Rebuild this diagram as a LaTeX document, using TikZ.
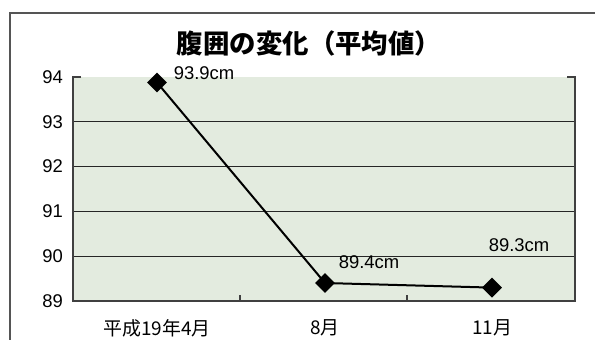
\documentclass[tikz,border=0pt]{standalone}
\usepackage{fontspec}
\setmainfont{Liberation Sans}
\newfontfamily\jpfont{Noto Sans CJK JP}
\usetikzlibrary{shapes.geometric,positioning}
\definecolor{plotbg}{HTML}{E3EBDF}
\definecolor{framegray}{HTML}{555555}

\begin{document}
\begin{tikzpicture}[x=1bp,y=-1bp,font=\fontsize{18.5}{18.5}\selectfont,
    datapt/.style={diamond,fill=black,inner sep=0pt,minimum size=20bp},
    gridln/.style={draw=black!85,line width=1.2bp},
    axisln/.style={draw=black!75,line width=1.2bp},
    catlab/.style={font=\jpfont\fontsize{19}{19}\selectfont}]
    \useasboundingbox (0,0) rectangle (595,340);

    \draw[framegray,line width=1.5bp] (595,13) -- (10,13) -- (10,340);

    \fill[plotbg] (73,77) rectangle (575,301);
    \foreach \y in {121.8,166.6,211.4,256.2}
      \draw[gridln] (73,\y) -- (575,\y);
    \draw[axisln] (81,77) -- (73,77) -- (73,301) -- (575,301) -- (575,77) -- (567,77);
    \foreach \x in {240,407}
      \draw[axisln] (\x,301) -- (\x,295);

    \foreach \v [count=\i from 0] in {94,93,92,91,90,89}
      \node[anchor=east,inner sep=0pt] (y\v) at (63,77+\i*44.8) {\v};

    \node (title) at (309,43) {\jpfont\bfseries\fontsize{26.5}{26.5}\selectfont 腹囲の変化（平均値）};

    \node[datapt] (apr) at (157,82.5) {};
    \node[datapt] (aug) at (325,283) {};
    \node[datapt] (nov) at (492,287.6) {};
    \draw[line width=2bp] (apr.center) -- (aug.center) -- (nov.center);

    \node[inner sep=0pt] (aprlab) at (204,73) {93.9cm};
    \node[inner sep=0pt] (auglab) at (369,262) {89.4cm};
    \node[inner sep=0pt] (novlab) at (519,245) {89.3cm};

    \node[catlab] (c1) at (157,328) {平成19年4月};
    \node[catlab] (c2) at (325,328) {8月};
    \node[catlab] (c3) at (492,328) {11月};
  \end{tikzpicture}
\end{document}
